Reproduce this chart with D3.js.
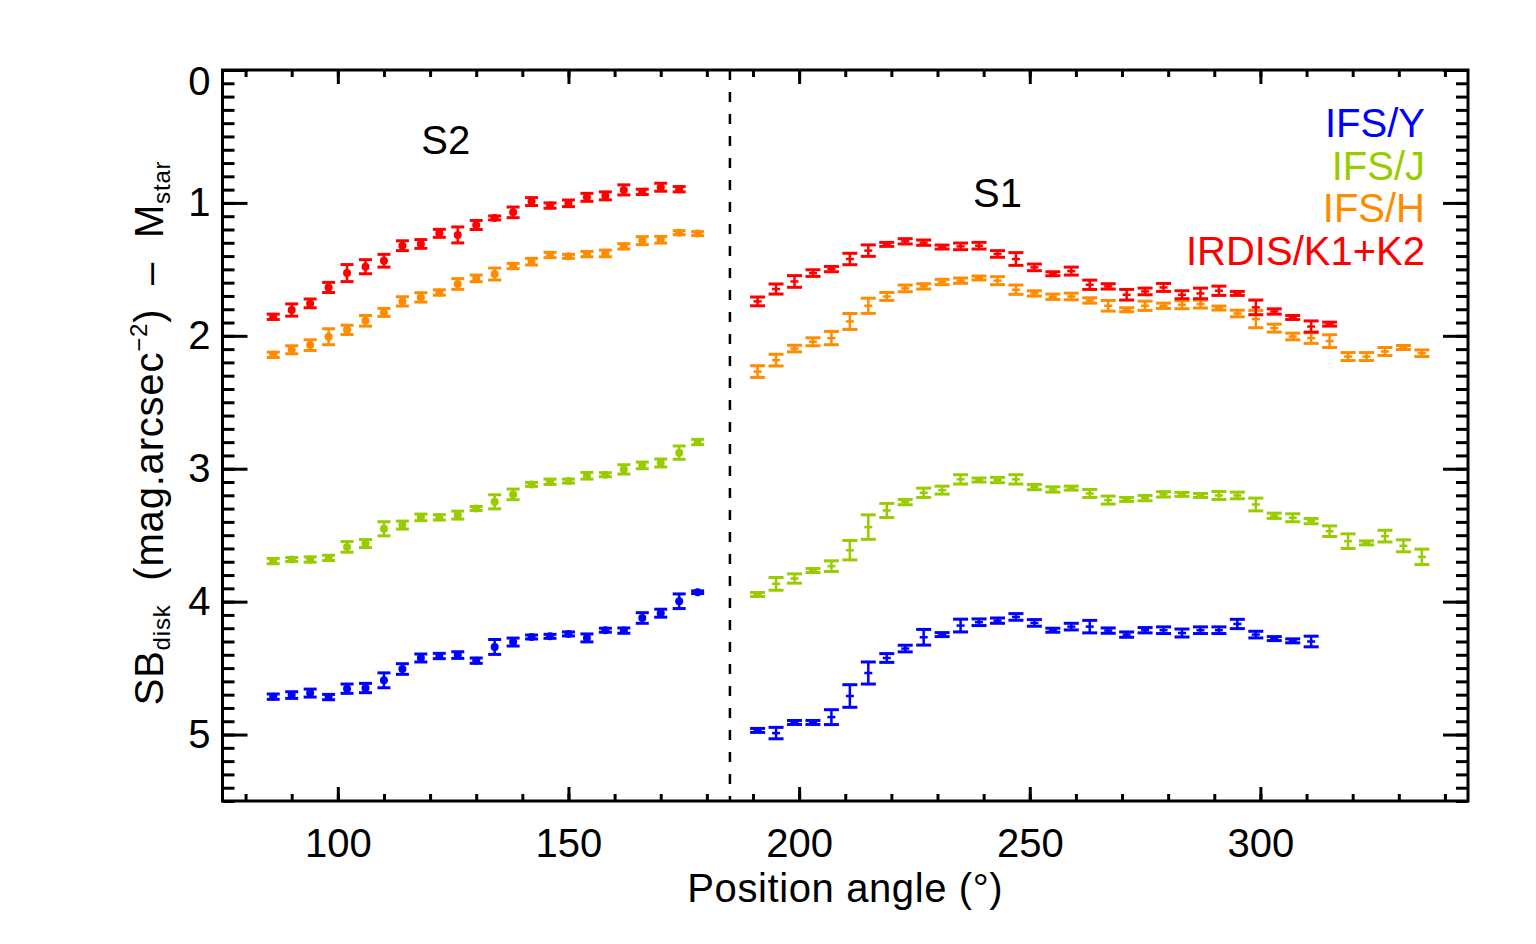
<!DOCTYPE html>
<html>
<head>
<meta charset="utf-8">
<script src="https://cdn.jsdelivr.net/npm/d3@7"></script>
<style>
    body { margin: 0; background: #fff; }
    svg { display: block; font-family: "Liberation Sans", "DejaVu Sans", sans-serif; }
</style>
</head>
<body>
<svg width="1536" height="944"></svg>
<script>
// position angles (deg) of the two disk sides
const anglesS2 = [86, 90, 94, 98, 102, 106, 110, 114, 118, 122, 126, 130, 134, 138, 142, 146, 150, 154, 158, 162, 166, 170, 174, 178];
const anglesS1 = [191, 195, 199, 203, 207, 211, 215, 219, 223, 227, 231, 235, 239, 243, 247, 251, 255, 259, 263, 267, 271, 275, 279, 283, 287, 291, 295, 299, 303, 307, 311, 315, 319, 323, 327, 331, 335];

// IFS/Y
const ifsY_S2 = [4.715, 4.703, 4.688, 4.718, 4.655, 4.650, 4.592, 4.507, 4.424, 4.409, 4.402, 4.444, 4.341, 4.304, 4.266, 4.261, 4.243, 4.273, 4.215, 4.218, 4.123, 4.087, 3.997, 3.929];
const ifsY_S2_err = [0.02, 0.025, 0.03, 0.02, 0.035, 0.035, 0.056, 0.04, 0.03, 0.02, 0.025, 0.02, 0.056, 0.03, 0.015, 0.015, 0.015, 0.03, 0.015, 0.02, 0.04, 0.03, 0.055, 0.01];
const ifsY_S1 = [4.969, 4.989, 4.909, 4.909, 4.869, 4.71, 4.537, 4.424, 4.353, 4.268, 4.248, 4.18, 4.155, 4.143, 4.115, 4.16, 4.215, 4.188, 4.188, 4.218, 4.248, 4.215, 4.215, 4.236, 4.215, 4.215, 4.168, 4.248, 4.278, 4.295, 4.30];
const ifsY_S1_err = [0.015, 0.043, 0.015, 0.015, 0.056, 0.085, 0.083, 0.033, 0.025, 0.059, 0.015, 0.048, 0.025, 0.02, 0.025, 0.025, 0.015, 0.025, 0.047, 0.02, 0.02, 0.02, 0.025, 0.03, 0.025, 0.025, 0.035, 0.025, 0.015, 0.015, 0.04];

// IFS/J
const ifsJ_S2 = [3.695, 3.683, 3.683, 3.671, 3.588, 3.563, 3.452, 3.424, 3.366, 3.366, 3.349, 3.299, 3.249, 3.193, 3.118, 3.098, 3.093, 3.053, 3.045, 3.005, 2.975, 2.957, 2.879, 2.799];
const ifsJ_S2_err = [0.02, 0.015, 0.02, 0.02, 0.04, 0.03, 0.053, 0.03, 0.025, 0.02, 0.03, 0.015, 0.053, 0.04, 0.015, 0.02, 0.015, 0.025, 0.015, 0.035, 0.025, 0.03, 0.05, 0.02];
const ifsJ_S1 = [3.946, 3.866, 3.826, 3.766, 3.733, 3.613, 3.439, 3.314, 3.251, 3.181, 3.161, 3.08, 3.085, 3.085, 3.08, 3.138, 3.156, 3.146, 3.186, 3.236, 3.231, 3.221, 3.193, 3.193, 3.201, 3.201, 3.201, 3.269, 3.354, 3.369, 3.394, 3.47, 3.545, 3.558, 3.507, 3.58, 3.663];
const ifsJ_S1_err = [0.015, 0.048, 0.035, 0.015, 0.04, 0.073, 0.092, 0.053, 0.02, 0.035, 0.03, 0.035, 0.015, 0.02, 0.035, 0.02, 0.02, 0.015, 0.03, 0.03, 0.015, 0.02, 0.02, 0.015, 0.015, 0.03, 0.025, 0.048, 0.02, 0.03, 0.02, 0.04, 0.055, 0.015, 0.044, 0.045, 0.058];

// IFS/H
const ifsH_S2 = [2.143, 2.105, 2.07, 2.007, 1.955, 1.887, 1.824, 1.741, 1.711, 1.674, 1.61, 1.568, 1.535, 1.475, 1.442, 1.392, 1.402, 1.385, 1.38, 1.327, 1.284, 1.277, 1.224, 1.231];
const ifsH_S2_err = [0.02, 0.03, 0.04, 0.06, 0.035, 0.04, 0.03, 0.035, 0.035, 0.02, 0.04, 0.025, 0.045, 0.02, 0.025, 0.02, 0.015, 0.02, 0.025, 0.02, 0.03, 0.025, 0.015, 0.015];
const ifsH_S1 = [2.269, 2.183, 2.096, 2.045, 2.017, 1.892, 1.774, 1.704, 1.643, 1.628, 1.595, 1.585, 1.565, 1.585, 1.653, 1.681, 1.706, 1.704, 1.734, 1.774, 1.804, 1.774, 1.774, 1.766, 1.761, 1.791, 1.832, 1.874, 1.942, 2.005, 2.017, 2.04, 2.156, 2.156, 2.118, 2.088, 2.131];
const ifsH_S1_err = [0.044, 0.044, 0.025, 0.03, 0.05, 0.06, 0.057, 0.03, 0.025, 0.02, 0.02, 0.02, 0.015, 0.03, 0.035, 0.02, 0.02, 0.025, 0.02, 0.04, 0.015, 0.035, 0.02, 0.03, 0.03, 0.015, 0.025, 0.065, 0.03, 0.025, 0.04, 0.048, 0.03, 0.03, 0.03, 0.015, 0.025];

// IRDIS/K1+K2
const irdisK_S2 = [1.857, 1.806, 1.756, 1.636, 1.528, 1.48, 1.435, 1.322, 1.309, 1.229, 1.241, 1.166, 1.113, 1.071, 0.99, 1.02, 1.003, 0.958, 0.947, 0.902, 0.917, 0.882, 0.897];
const irdisK_S2_err = [0.02, 0.046, 0.033, 0.038, 0.064, 0.053, 0.048, 0.037, 0.033, 0.03, 0.06, 0.034, 0.015, 0.04, 0.03, 0.02, 0.025, 0.03, 0.03, 0.038, 0.02, 0.03, 0.02];
const irdisK_S1 = [1.741, 1.648, 1.591, 1.528, 1.498, 1.422, 1.359, 1.312, 1.289, 1.299, 1.332, 1.327, 1.322, 1.384, 1.422, 1.485, 1.533, 1.513, 1.616, 1.628, 1.691, 1.666, 1.636, 1.691, 1.681, 1.661, 1.681, 1.786, 1.817, 1.862, 1.930, 1.912];
const irdisK_S1_err = [0.033, 0.038, 0.044, 0.025, 0.02, 0.043, 0.043, 0.015, 0.02, 0.02, 0.015, 0.025, 0.025, 0.025, 0.048, 0.025, 0.015, 0.03, 0.035, 0.02, 0.04, 0.025, 0.03, 0.03, 0.04, 0.035, 0.015, 0.055, 0.02, 0.015, 0.042, 0.015];

const bandNames = ["IFS/Y", "IFS/J", "IFS/H", "IRDIS/K1+K2"];
const bandColors = ["#0000ff", "#99cc00", "#ff8c00", "#ff0000"];

const xTicks = [100, 150, 200, 250, 300];
const yTicks = [0, 1, 2, 3, 4, 5];
const separatorAngle = 185;

function toPoints(angles, values, errs) {
    return values.map((v, i) => ({ x: angles[i], y: v, err: errs[i] }));
}

function drawAxes(svg, scX, scY, attr_area) {
    const xMinor = d3.range(80, 345, 10);
    const yMinor = d3.range(0, 5.51, 0.1);

    const gBottom = svg.append("g")
        .attr("transform", `translate(0, ${attr_area.bottom})`);
    gBottom.call(d3.axisBottom(scX).tickValues(xMinor).tickSize(-7).tickFormat(""));
    gBottom.append("g").call(d3.axisBottom(scX).tickValues(xTicks).tickSize(-14).tickPadding(28).tickFormat(d3.format("d")));

    const gTop = svg.append("g")
        .attr("transform", `translate(0, ${attr_area.top})`);
    gTop.call(d3.axisTop(scX).tickValues(xMinor).tickSize(-7).tickFormat(""));
    gTop.append("g").call(d3.axisTop(scX).tickValues(xTicks).tickSize(-14).tickFormat(""));

    const gLeft = svg.append("g")
        .attr("transform", `translate(${attr_area.left}, 0)`);
    gLeft.call(d3.axisLeft(scY).tickValues(yMinor).tickSize(-12).tickFormat(""));
    gLeft.append("g").call(d3.axisLeft(scY).tickValues(yTicks).tickSize(-25).tickPadding(12).tickFormat(d3.format("d")));

    const gRight = svg.append("g")
        .attr("transform", `translate(${attr_area.right}, 0)`);
    gRight.call(d3.axisRight(scY).tickValues(yMinor).tickSize(-12).tickFormat(""));
    gRight.append("g").call(d3.axisRight(scY).tickValues(yTicks).tickSize(-25).tickFormat(""));

    svg.selectAll(".domain").remove();
    svg.selectAll(".tick line").style("stroke", "#000").style("stroke-width", 3);
    svg.selectAll(".tick text")
        .style("font-size", "40px")
        .style("fill", "#000");
    // IDL pushes the top label inside the frame
    gLeft.selectAll(".tick text").filter(d => d === 0).attr("dy", "0.62em");

    svg.append("rect")
        .attr("x", attr_area.left)
        .attr("y", attr_area.top)
        .attr("width", attr_area.right - attr_area.left)
        .attr("height", attr_area.bottom - attr_area.top)
        .style("fill", "none")
        .style("stroke", "#000")
        .style("stroke-width", 3);
}

function drawErrorSeries(g, data, scX, scY, color, marker) {
    const cap = marker === "dot" ? 6.5 : 7.5;

    const pt = g.append("g").selectAll("g")
        .data(data)
        .enter()
        .append("g")
        .style("stroke", color)
        .style("fill", color);

    pt.append("line")
        .attr("x1", d => scX(d.x)).attr("x2", d => scX(d.x))
        .attr("y1", d => scY(d.y - d.err)).attr("y2", d => scY(d.y + d.err))
        .style("stroke-width", 2.5);
    pt.append("line")
        .attr("x1", d => scX(d.x) - cap).attr("x2", d => scX(d.x) + cap)
        .attr("y1", d => scY(d.y - d.err)).attr("y2", d => scY(d.y - d.err))
        .style("stroke-width", 3);
    pt.append("line")
        .attr("x1", d => scX(d.x) - cap).attr("x2", d => scX(d.x) + cap)
        .attr("y1", d => scY(d.y + d.err)).attr("y2", d => scY(d.y + d.err))
        .style("stroke-width", 3);

    if (marker === "dot") {
        pt.append("circle")
            .attr("cx", d => scX(d.x))
            .attr("cy", d => scY(d.y))
            .attr("r", 4)
            .style("stroke", "none");
    } else {
        pt.append("line")
            .attr("x1", d => scX(d.x) - 4).attr("x2", d => scX(d.x) + 4)
            .attr("y1", d => scY(d.y)).attr("y2", d => scY(d.y))
            .style("stroke-width", 2.5);
    }
}

function drawGraph() {
    const svg = d3.select("svg");
    svg.selectAll("*").remove();

    const attr_area = {
        width: 1536,
        height: 944,
        left: 222.5,
        right: 1468,
        top: 70,
        bottom: 801
    };

    const scX = d3.scaleLinear().domain([75, 345]).range([attr_area.left, attr_area.right]);
    const scY = d3.scaleLinear().domain([0, 5.5]).range([attr_area.top, attr_area.bottom]);

    // separation between the two sides of the disk
    svg.append("line")
        .attr("x1", scX(separatorAngle)).attr("x2", scX(separatorAngle))
        .attr("y1", attr_area.top).attr("y2", attr_area.bottom)
        .style("stroke", "#000")
        .style("stroke-width", 2.5)
        .style("stroke-dasharray", "10,12");

    const seriesS2 = [
        toPoints(anglesS2, ifsY_S2, ifsY_S2_err),
        toPoints(anglesS2, ifsJ_S2, ifsJ_S2_err),
        toPoints(anglesS2, ifsH_S2, ifsH_S2_err),
        toPoints(anglesS2, irdisK_S2, irdisK_S2_err)
    ];
    const seriesS1 = [
        toPoints(anglesS1, ifsY_S1, ifsY_S1_err),
        toPoints(anglesS1, ifsJ_S1, ifsJ_S1_err),
        toPoints(anglesS1, ifsH_S1, ifsH_S1_err),
        toPoints(anglesS1, irdisK_S1, irdisK_S1_err)
    ];

    const gData = svg.append("g");
    for (let i = 0; i < bandNames.length; i++) {
        drawErrorSeries(gData, seriesS2[i], scX, scY, bandColors[i], "dot");
        drawErrorSeries(gData, seriesS1[i], scX, scY, bandColors[i], "plus");
    }

    drawAxes(svg, scX, scY, attr_area);

    // side labels
    svg.append("text")
        .attr("x", scX(123.4)).attr("y", 154)
        .attr("text-anchor", "middle")
        .style("font-size", "40px")
        .text("S2");
    svg.append("text")
        .attr("x", scX(243)).attr("y", 207)
        .attr("text-anchor", "middle")
        .style("font-size", "40px")
        .text("S1");

    // legend
    svg.selectAll(".legend")
        .data(bandNames)
        .enter()
        .append("text")
        .attr("x", 1425)
        .attr("y", (d, i) => 137 + i * 42.7)
        .attr("text-anchor", "end")
        .style("font-size", "40px")
        .style("fill", (d, i) => bandColors[i])
        .text(d => d);

    // axis titles
    svg.append("text")
        .attr("x", (attr_area.left + attr_area.right) / 2)
        .attr("y", 902)
        .attr("text-anchor", "middle")
        .style("font-size", "40px")
        .style("letter-spacing", "0.6px")
        .text("Position angle (°)");

    const yTitle = svg.append("text")
        .attr("transform", "translate(163, 433) rotate(-90)")
        .attr("text-anchor", "middle")
        .style("font-size", "40px")
        .style("white-space", "pre")
        .style("letter-spacing", "0.8px");
    yTitle.append("tspan").text("SB");
    yTitle.append("tspan").attr("dy", 7).style("font-size", "24px").text("disk");
    yTitle.append("tspan").attr("dy", -7).text("  (mag.arcsec");
    yTitle.append("tspan").attr("dy", -16).style("font-size", "24px").text("−2");
    yTitle.append("tspan").attr("dy", 16).text(")  –  M");
    yTitle.append("tspan").attr("dy", 7).style("font-size", "24px").text("star");
}

drawGraph();
</script>
</body>
</html>
